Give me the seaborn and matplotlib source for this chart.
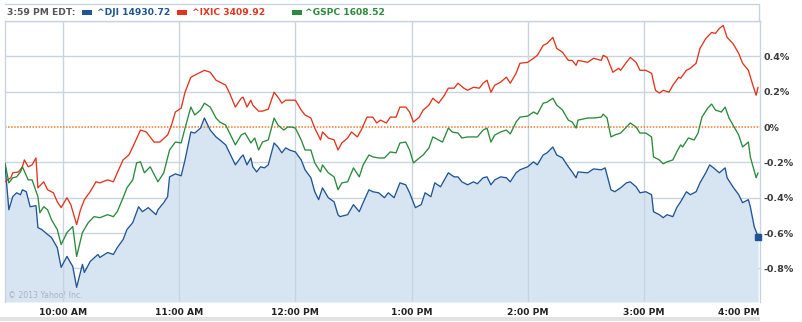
import matplotlib
matplotlib.use("Agg")
import matplotlib.pyplot as plt
import numpy as np
import pandas as pd
import seaborn as sns
from matplotlib.patches import Rectangle
from matplotlib.lines import Line2D

# ---- data: minutes after 9:30 AM, % change ----
dji_min = [0, 2, 4, 6, 8, 9, 11, 13, 16, 17, 19, 22, 24, 27, 29, 32, 35, 37, 40, 41,
           44, 48, 49, 53, 56, 58, 61, 63, 66, 69, 71, 74, 78, 79, 82, 84, 85, 88, 91, 93,
           96, 98, 101, 103, 106, 109, 111, 114, 116, 119, 122, 123, 125, 127, 128, 130, 132, 134, 136, 139,
           141, 143, 145, 147, 150, 153, 155, 158, 160, 162, 164, 167, 170, 172, 173, 177, 180, 183, 185, 188,
           190, 193, 196, 198, 201, 204, 207, 209, 212, 215, 217, 220, 222, 225, 229, 232, 234, 236, 239, 242,
           244, 247, 249, 251, 253, 256, 259, 261, 264, 266, 270, 273, 275, 278, 280, 283, 285, 288, 291, 293,
           295, 296, 301, 304, 308, 310, 313, 315, 318, 321, 323, 326, 328, 331, 334, 335, 338, 340, 342, 345,
           347, 349, 352, 354, 357, 359, 362, 364, 366, 369, 372, 373, 376, 379, 381, 384, 385, 387, 389]
dji_pct = [-0.214, -0.468, -0.394, -0.372, -0.383, -0.355, -0.366, -0.451, -0.445, -0.569,
           -0.580, -0.608, -0.625, -0.682, -0.794, -0.732, -0.789, -0.907, -0.777, -0.823,
           -0.761, -0.721, -0.738, -0.710, -0.721, -0.682, -0.637, -0.580, -0.541, -0.451,
           -0.479, -0.456, -0.496, -0.468, -0.428, -0.394, -0.282, -0.265, -0.276, -0.186,
           -0.028, -0.034, -0.006, 0.051, -0.017, -0.056, -0.073, -0.101, -0.146, -0.214,
           -0.169, -0.158, -0.214, -0.175, -0.225, -0.254, -0.225, -0.231, -0.214, -0.090,
           -0.113, -0.146, -0.118, -0.130, -0.141, -0.186, -0.242, -0.287, -0.366, -0.411,
           -0.344, -0.400, -0.423, -0.496, -0.507, -0.496, -0.439, -0.479, -0.428, -0.355,
           -0.366, -0.372, -0.400, -0.372, -0.400, -0.316, -0.327, -0.372, -0.456, -0.439,
           -0.372, -0.394, -0.316, -0.338, -0.259, -0.282, -0.282, -0.310, -0.327, -0.310,
           -0.321, -0.287, -0.282, -0.327, -0.299, -0.282, -0.287, -0.310, -0.259, -0.242,
           -0.225, -0.197, -0.214, -0.158, -0.146, -0.113, -0.158, -0.175, -0.225, -0.254,
           -0.287, -0.254, -0.259, -0.237, -0.242, -0.231, -0.355, -0.366, -0.344, -0.316,
           -0.310, -0.338, -0.372, -0.366, -0.383, -0.479, -0.496, -0.513, -0.496, -0.507,
           -0.456, -0.423, -0.366, -0.383, -0.366, -0.316, -0.259, -0.214, -0.231, -0.259,
           -0.231, -0.287, -0.338, -0.383, -0.428, -0.411, -0.451, -0.563, -0.620]

ixic_min = [0, 3, 4, 7, 9, 10, 12, 14, 16, 17, 20, 22, 25, 27, 29, 32, 34, 37, 39, 41,
            44, 47, 49, 53, 56, 58, 61, 64, 66, 70, 73, 77, 80, 84, 86, 88, 91, 93, 96, 98,
            101, 103, 106, 109, 111, 114, 116, 119, 122, 123, 125, 127, 128, 131, 133, 136, 139, 141, 143, 145,
            147, 150, 153, 155, 158, 160, 163, 164, 167, 170, 172, 174, 177, 179, 182, 184, 187, 190, 192, 194,
            197, 199, 202, 204, 207, 209, 211, 214, 216, 219, 221, 224, 227, 229, 232, 234, 237, 239, 242, 245,
            247, 249, 251, 253, 256, 259, 261, 264, 266, 270, 273, 275, 278, 280, 283, 285, 288, 291, 293, 295,
            296, 301, 304, 308, 309, 311, 314, 317, 318, 321, 323, 326, 328, 331, 334, 336, 338, 340, 343, 345,
            348, 349, 352, 354, 357, 359, 362, 365, 367, 369, 371, 373, 376, 379, 381, 384, 386, 388, 389]
ixic_pct = [-0.310, -0.287, -0.259, -0.254, -0.225, -0.186, -0.225, -0.214, -0.175, -0.344,
            -0.310, -0.355, -0.372, -0.423, -0.456, -0.400, -0.439, -0.552, -0.468, -0.411,
            -0.366, -0.310, -0.316, -0.299, -0.310, -0.259, -0.186, -0.158, -0.113, -0.017,
            -0.028, -0.085, -0.085, -0.045, 0.011, 0.085, 0.107, 0.197, 0.282, 0.293,
            0.310, 0.321, 0.310, 0.265, 0.254, 0.237, 0.192, 0.113, 0.163, 0.169,
            0.113, 0.152, 0.124, 0.090, 0.090, 0.101, 0.197, 0.169, 0.135, 0.152,
            0.152, 0.152, 0.096, 0.068, 0.051, -0.006, -0.073, -0.028, -0.062, -0.073,
            -0.130, -0.090, -0.062, -0.028, -0.056, -0.017, 0.056, 0.056, 0.023, 0.039,
            0.023, 0.056, 0.056, 0.113, 0.113, 0.085, 0.028, 0.056, 0.096, 0.124,
            0.163, 0.135, 0.180, 0.220, 0.220, 0.248, 0.220, 0.208, 0.225, 0.220,
            0.248, 0.265, 0.197, 0.237, 0.254, 0.282, 0.248, 0.304, 0.361, 0.366,
            0.389, 0.406, 0.462, 0.473, 0.507, 0.445, 0.423, 0.377, 0.377, 0.349,
            0.377, 0.366, 0.389, 0.377, 0.406, 0.394, 0.310, 0.332, 0.321, 0.366,
            0.394, 0.366, 0.321, 0.321, 0.304, 0.208, 0.192, 0.208, 0.197, 0.237,
            0.282, 0.276, 0.321, 0.332, 0.361, 0.445, 0.501, 0.535, 0.530, 0.558,
            0.575, 0.507, 0.473, 0.417, 0.361, 0.321, 0.248, 0.180, 0.225]

gspc_min = [0, 2, 4, 6, 8, 9, 12, 14, 17, 18, 20, 22, 24, 27, 29, 32, 35, 37, 40, 43,
            46, 49, 53, 56, 58, 61, 63, 66, 68, 70, 72, 75, 79, 82, 85, 88, 91, 93, 96, 98,
            101, 103, 106, 109, 111, 114, 116, 119, 122, 124, 127, 129, 131, 133, 136, 139, 141, 144, 146, 148,
            150, 153, 155, 158, 160, 163, 164, 167, 170, 172, 174, 177, 180, 183, 185, 188, 190, 193, 196, 199,
            202, 204, 207, 209, 211, 214, 216, 219, 221, 224, 226, 229, 231, 234, 236, 239, 242, 244, 247, 249,
            251, 253, 256, 259, 261, 264, 266, 270, 273, 275, 278, 280, 283, 285, 288, 291, 293, 295, 296, 301,
            304, 308, 309, 311, 313, 315, 318, 321, 323, 326, 328, 331, 334, 335, 338, 340, 342, 345, 347, 349,
            350, 353, 356, 358, 360, 363, 365, 367, 370, 372, 374, 377, 379, 381, 384, 385, 388, 389]
gspc_pct = [-0.203, -0.316, -0.287, -0.282, -0.254, -0.225, -0.299, -0.299, -0.394, -0.485,
            -0.451, -0.468, -0.524, -0.580, -0.665, -0.597, -0.563, -0.732, -0.597, -0.541,
            -0.507, -0.513, -0.496, -0.507, -0.479, -0.400, -0.344, -0.299, -0.203, -0.197,
            -0.259, -0.225, -0.310, -0.259, -0.130, -0.085, -0.090, -0.006, 0.113, 0.068,
            0.096, 0.135, 0.113, 0.051, 0.028, 0.011, -0.034, -0.101, -0.045, -0.034,
            -0.090, -0.062, -0.130, -0.085, -0.073, 0.051, 0.011, -0.017, 0.000, 0.000,
            -0.006, -0.073, -0.130, -0.130, -0.203, -0.254, -0.214, -0.259, -0.282, -0.355,
            -0.316, -0.310, -0.231, -0.282, -0.214, -0.158, -0.169, -0.175, -0.175, -0.141,
            -0.146, -0.090, -0.085, -0.130, -0.203, -0.175, -0.158, -0.118, -0.056, -0.073,
            -0.085, -0.006, -0.028, -0.034, -0.062, -0.056, -0.056, -0.056, -0.017, -0.006,
            -0.085, -0.045, -0.028, -0.017, -0.039, 0.028, 0.056, 0.062, 0.085, 0.073,
            0.135, 0.141, 0.163, 0.124, 0.096, 0.039, 0.028, -0.006, 0.039, 0.051,
            0.051, 0.056, 0.073, 0.051, -0.056, -0.045, -0.034, 0.000, 0.023, 0.000,
            -0.034, -0.034, -0.056, -0.169, -0.186, -0.208, -0.197, -0.186, -0.141, -0.101,
            -0.113, -0.062, -0.073, -0.034, 0.056, 0.107, 0.130, 0.096, 0.085, 0.113,
            0.051, -0.006, -0.045, -0.113, -0.085, -0.169, -0.287, -0.259]

series_names = ["^DJI", "^IXIC", "^GSPC"]
last_quotes = ["14930.72", "3409.92", "1608.52"]
timestamp = "3:59 PM EDT:"
hour_ticks = [30, 90, 150, 210, 270, 330, 390]
hour_labels = ["10:00 AM", "11:00 AM", "12:00 PM", "1:00 PM", "2:00 PM", "3:00 PM", "4:00 PM"]
pct_ticks = [-0.8, -0.6, -0.4, -0.2, 0.0, 0.2, 0.4]
pct_labels = ["-0.8%", "-0.6%", "-0.4%", "-0.2%", "0%", "0.2%", "0.4%"]

assert len(dji_min) == len(dji_pct)
assert len(ixic_min) == len(ixic_pct)
assert len(gspc_min) == len(gspc_pct)

# ---- style ----
BLUE = "#1f5596"
RED = "#e2351d"
GREEN = "#2b8a3b"
FILL = "#d6e5f1"
GRID = "#c8d5e0"
ORANGE = "#f4792a"
colors = {"^DJI": BLUE, "^IXIC": RED, "^GSPC": GREEN}

sns.set_theme(style="white")
plt.rcParams["font.family"] = ["DejaVu Sans"]

W, H = 803, 322
fig = plt.figure(figsize=(W / 100, H / 100), dpi=100)
fig.patch.set_facecolor("white")

YMIN, YMAX = -0.99, 0.6
ax = fig.add_axes([5 / W, 20 / H, 755 / W, 281 / H])
ax.set_facecolor("white")
ax.set_xlim(0, 390)
ax.set_ylim(YMIN, YMAX)

# gridlines
for v in [0.6, 0.4, 0.2, -0.2, -0.4, -0.6, -0.8]:
    ax.axhline(v, color=GRID, lw=1.0, zorder=0.5)
for t in hour_ticks[:-1]:
    ax.axvline(t, color=GRID, lw=1.0, zorder=2.2)

# area under DJI
ax.fill_between(dji_min, dji_pct, YMIN, color=FILL, lw=0, zorder=1)

# zero line
ax.axhline(0, color=ORANGE, lw=1.1, ls=(0, (1, 1)), zorder=2.5)

df = pd.concat([
    pd.DataFrame({"minute": dji_min, "pct": dji_pct, "symbol": "^DJI"}),
    pd.DataFrame({"minute": ixic_min, "pct": ixic_pct, "symbol": "^IXIC"}),
    pd.DataFrame({"minute": gspc_min, "pct": gspc_pct, "symbol": "^GSPC"}),
])
sns.lineplot(data=df, x="minute", y="pct", hue="symbol", palette=colors,
             estimator=None, sort=False, legend=False, lw=0.95, ax=ax, zorder=3)
# end marker on DJI
ax.plot(dji_min[-1:], dji_pct[-1:], marker="s", ms=4.5, color=BLUE,
        ls="none", zorder=4, clip_on=False)

for s in ["left", "top", "right"]:
    ax.spines[s].set_visible(True)
    ax.spines[s].set_color(GRID)
    ax.spines[s].set_linewidth(1.0)
ax.spines["bottom"].set_visible(False)

ax.set_xticks(hour_ticks)
ax.set_xticklabels(hour_labels)
ax.yaxis.tick_right()
ax.set_yticks(pct_ticks)
ax.set_yticklabels(pct_labels)
ax.tick_params(axis="both", length=0)
ax.tick_params(axis="x", pad=4, labelsize=6.6, labelcolor="#222222")
ax.tick_params(axis="y", pad=2.5, labelsize=6.8, labelcolor="#3a3a3a")
for lab in ax.get_xticklabels():
    lab.set_fontweight("bold")
for lab in ax.get_yticklabels():
    lab.set_fontweight("bold")
ax.get_xticklabels()[-1].set_horizontalalignment("right")
ax.set_xlabel("")
ax.set_ylabel("")

# header band frame
fig.add_artist(Line2D([5 / W, 759.5 / W], [1 - 4 / H, 1 - 4 / H], color=GRID, lw=1.0))
fig.add_artist(Line2D([759.5 / W, 759.5 / W], [1 - 4 / H, 1 - 21 / H], color=GRID, lw=1.0))

# bottom grey strip
fig.add_artist(Rectangle((0, 1 - 321 / H), 760 / W, 4 / H, transform=fig.transFigure,
                         facecolor="#e2e2e2", edgecolor="none"))

# copyright
ax.text(3 / 755 * 390, YMIN + 0.012, "\u00a9 2013 Yahoo! Inc.", fontsize=5.6,
        color="#aab4bf", ha="left", va="bottom", zorder=5)

# header legend
ty = 1 - 12.5 / H
fig.text(7 / W, ty, timestamp, fontsize=6.6, fontweight="bold", color="#555555",
         ha="left", va="center")
sq_x = [82, 177, 292]
tx_x = [97, 192, 305]
for name, q, sx, tx in zip(series_names, last_quotes, sq_x, tx_x):
    c = colors[name]
    fig.add_artist(Rectangle((sx / W, 1 - 15 / H), 10 / W, 5 / H,
                             transform=fig.transFigure, facecolor=c, edgecolor="none"))
    fig.text(tx / W, ty, f"{name} {q}", fontsize=6.6, fontweight="bold", color=c,
             ha="left", va="center")

fig.savefig("out.png", dpi=100, facecolor="white")
